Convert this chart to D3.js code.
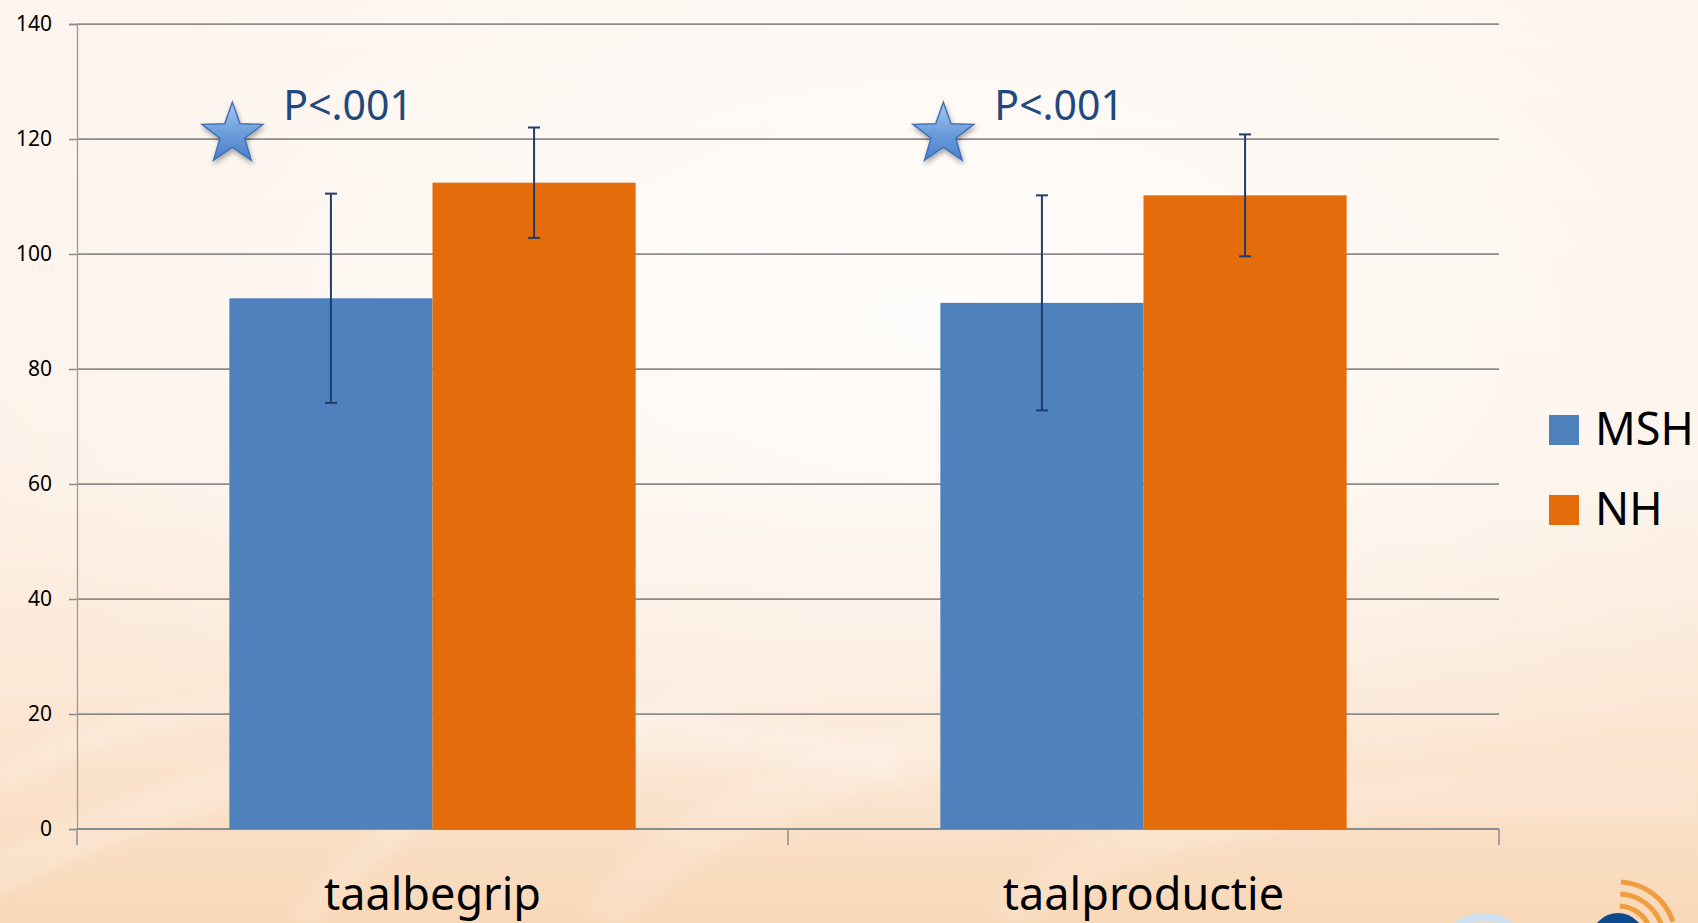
<!DOCTYPE html>
<html>
<head>
<meta charset="utf-8">
<script src="https://cdn.jsdelivr.net/npm/d3@7"></script>
<style>
  html, body { margin: 0; padding: 0; background: #fdf5ee; overflow: hidden; }
  svg { display: block; font-family: "Noto Sans", "Open Sans", sans-serif; }
</style>
</head>
<body>
<svg id="chart" width="1698" height="923"></svg>
<script>
// ---- data ----
const categories = ["taalbegrip", "taalproductie"];
const seriesNames = ["MSH", "NH"];
const mshValues = [92.3, 91.5];
const mshErrors = [18.2, 18.7];
const nhValues = [112.4, 110.2];
const nhErrors = [9.6, 10.6];
const yTicks = [0, 20, 40, 60, 80, 100, 120, 140];
const annotationLabels = ["P<.001", "P<.001"];
const annotationValues = [121, 121];
const seriesColors = ["#4f81bd", "#e46c0a"];

const svg = d3.select("#chart");
const W = 1698, H = 923;
const plotLeft = 77, plotRight = 1499, plotTop = 24, plotBottom = 829;

// ---- background ----
const defs = svg.append("defs");
const bg = defs.append("linearGradient").attr("id", "bg").attr("x1", 0).attr("y1", 0).attr("x2", 0).attr("y2", 1);
bg.append("stop").attr("offset", "0").attr("stop-color", "#fdf5ee");
bg.append("stop").attr("offset", "0.5").attr("stop-color", "#fdf2e8");
bg.append("stop").attr("offset", "0.78").attr("stop-color", "#fbe6d3");
bg.append("stop").attr("offset", "1").attr("stop-color", "#f9d8b8");
const glow = defs.append("radialGradient").attr("id", "glow").attr("cx", "0.55").attr("cy", "0.35").attr("r", "0.6");
glow.append("stop").attr("offset", "0").attr("stop-color", "#ffffff").attr("stop-opacity", 0.8);
glow.append("stop").attr("offset", "1").attr("stop-color", "#ffffff").attr("stop-opacity", 0);
const starGrad = defs.append("linearGradient").attr("id", "starGrad").attr("x1", 0).attr("y1", 0).attr("x2", 0).attr("y2", 1);
starGrad.append("stop").attr("offset", "0").attr("stop-color", "#a9c8f0");
starGrad.append("stop").attr("offset", "0.5").attr("stop-color", "#6f9fdc");
starGrad.append("stop").attr("offset", "1").attr("stop-color", "#4a7fc9");
const shadow = defs.append("filter").attr("id", "shadow").attr("x", "-50%").attr("y", "-50%").attr("width", "200%").attr("height", "200%");
shadow.append("feDropShadow").attr("dx", 1).attr("dy", 3).attr("stdDeviation", 2.5).attr("flood-color", "#000").attr("flood-opacity", 0.35);
const blur = defs.append("filter").attr("id", "soft");
blur.append("feGaussianBlur").attr("stdDeviation", 6);

svg.append("rect").attr("width", W).attr("height", H).attr("fill", "url(#bg)");
svg.append("rect").attr("width", W).attr("height", H).attr("fill", "url(#glow)");

// decorative light swirls near the bottom
const swirl = svg.append("g").attr("fill", "none").attr("stroke", "#ffffff").attr("filter", "url(#soft)");
[
  {d: "M -50 900 C 200 760, 500 700, 900 760", w: 40, o: 0.18},
  {d: "M 300 923 C 420 780, 600 700, 820 690", w: 30, o: 0.15},
  {d: "M 600 923 C 700 800, 900 720, 1200 740", w: 50, o: 0.12},
  {d: "M 0 780 C 150 700, 300 680, 500 700", w: 25, o: 0.14},
  {d: "M 1000 923 C 1100 830, 1300 780, 1700 800", w: 45, o: 0.12}
].forEach(s => swirl.append("path").attr("d", s.d).attr("stroke-width", s.w).attr("stroke-opacity", s.o));

// logo fragments bottom right
const logo = svg.append("g");
logo.append("circle").attr("cx", 1484).attr("cy", 965).attr("r", 48).attr("fill", "none").attr("stroke", "#cfe0f0").attr("stroke-width", 8);
logo.append("circle").attr("cx", 1618).attr("cy", 940).attr("r", 27).attr("fill", "#0d4a8c");
[34, 46, 58].forEach(r => {
  logo.append("path")
    .attr("d", d3.arc()({innerRadius: r - 2.5, outerRadius: r + 2.5, startAngle: 0.05, endAngle: 1.25}))
    .attr("transform", "translate(1618,940)")
    .attr("fill", "#ef9d3e");
});

// ---- scales ----
const x0 = d3.scaleBand().domain(categories).range([plotLeft, plotRight]).paddingInner(0).paddingOuter(0);
const x1 = d3.scaleBand().domain(seriesNames).range([0, x0.bandwidth()]).paddingInner(0).paddingOuter(0.75);
const y = d3.scaleLinear().domain([0, 140]).range([plotBottom, plotTop]);

// ---- gridlines ----
svg.append("g").selectAll("line").data(yTicks).join("line")
  .attr("x1", plotLeft).attr("x2", plotRight)
  .attr("y1", d => y(d)).attr("y2", d => y(d))
  .attr("stroke", "#8c8c8c").attr("stroke-width", 1.75);

// ---- y axis ----
const yAxis = d3.axisLeft(y).tickValues(yTicks).tickSize(8).tickPadding(17).tickFormat(d3.format("d"));
const gy = svg.append("g").attr("transform", `translate(${plotLeft},0)`).call(yAxis);
gy.select(".domain").attr("stroke", "#9a9a9a").attr("stroke-width", 1.3);
gy.selectAll(".tick line").attr("stroke", "#8c8c8c").attr("stroke-width", 1.5);
gy.selectAll(".tick text").attr("fill", "#000").style("font-size", "21px").style("font-family", "'Noto Sans', sans-serif");

// ---- x axis ----
const xBoundaries = [plotLeft, ...categories.map(c => x0(c) + x0.bandwidth())];
const gx = svg.append("g");
gx.append("line").attr("x1", plotLeft).attr("x2", plotRight).attr("y1", plotBottom).attr("y2", plotBottom)
  .attr("stroke", "#8c8c8c").attr("stroke-width", 2);
gx.selectAll(".xt").data(xBoundaries).join("line").attr("class", "xt")
  .attr("x1", d => d).attr("x2", d => d).attr("y1", plotBottom).attr("y2", plotBottom + 16)
  .attr("stroke", "#8c8c8c").attr("stroke-width", 1.5);
gx.selectAll(".xl").data(categories).join("text").attr("class", "xl")
  .attr("x", d => x0(d) + x0.bandwidth() / 2)
  .attr("y", 910)
  .attr("text-anchor", "middle")
  .style("font-size", "45px")
  .attr("fill", "#000")
  .text(d => d);

// ---- bars ----
const seriesData = [
  {name: seriesNames[0], values: mshValues, errors: mshErrors, color: seriesColors[0]},
  {name: seriesNames[1], values: nhValues, errors: nhErrors, color: seriesColors[1]}
];
const barsG = svg.append("g");
seriesData.forEach(s => {
  const pts = categories.map((c, i) => ({c, v: s.values[i], e: s.errors[i]}));
  barsG.append("g").selectAll("rect").data(pts).join("rect")
    .attr("x", d => x0(d.c) + x1(s.name))
    .attr("y", d => y(d.v))
    .attr("width", x1.bandwidth())
    .attr("height", d => y(0) - y(d.v))
    .attr("fill", s.color);
});

// ---- error bars ----
const errG = svg.append("g").attr("stroke", "#1f3d6b").attr("stroke-width", 2);
seriesData.forEach(s => {
  categories.forEach((c, i) => {
    const cx = x0(c) + x1(s.name) + x1.bandwidth() / 2;
    const hi = y(s.values[i] + s.errors[i]);
    const lo = y(s.values[i] - s.errors[i]);
    errG.append("line").attr("x1", cx).attr("x2", cx).attr("y1", hi).attr("y2", lo);
    errG.append("line").attr("x1", cx - 6).attr("x2", cx + 6).attr("y1", hi).attr("y2", hi);
    errG.append("line").attr("x1", cx - 6).attr("x2", cx + 6).attr("y1", lo).attr("y2", lo);
  });
});

// ---- annotations (stars + p-values) ----
function starPath(cx, cy, R, r) {
  const pts = [];
  for (let k = 0; k < 10; k++) {
    const rad = k % 2 === 0 ? R : r;
    const a = -Math.PI / 2 + k * Math.PI / 5;
    pts.push([cx + rad * Math.cos(a), cy + rad * Math.sin(a)]);
  }
  return "M" + pts.map(p => p.join(",")).join("L") + "Z";
}
const annG = svg.append("g");
categories.forEach((c, i) => {
  const sx = x0(c) + x1(seriesNames[0]) + 3;
  const sy = y(annotationValues[i]) + 1;
  annG.append("path").attr("d", starPath(sx, sy, 32, 13))
    .attr("fill", "url(#starGrad)").attr("stroke", "#3f72b8").attr("stroke-width", 1.5)
    .attr("filter", "url(#shadow)");
  annG.append("text")
    .attr("x", sx + 51).attr("y", y(annotationValues[i]) - 13)
    .style("font-size", "41px").attr("fill", "#1f497d")
    .text(annotationLabels[i]);
});

// ---- legend ----
const legend = svg.append("g");
seriesData.forEach((s, i) => {
  const ly = 415 + i * 80;
  legend.append("rect").attr("x", 1549).attr("y", ly).attr("width", 30).attr("height", 30).attr("fill", s.color);
  legend.append("text").attr("x", 1595).attr("y", ly + 30).style("font-size", "45px").attr("fill", "#000").text(s.name);
});
</script>
</body>
</html>
